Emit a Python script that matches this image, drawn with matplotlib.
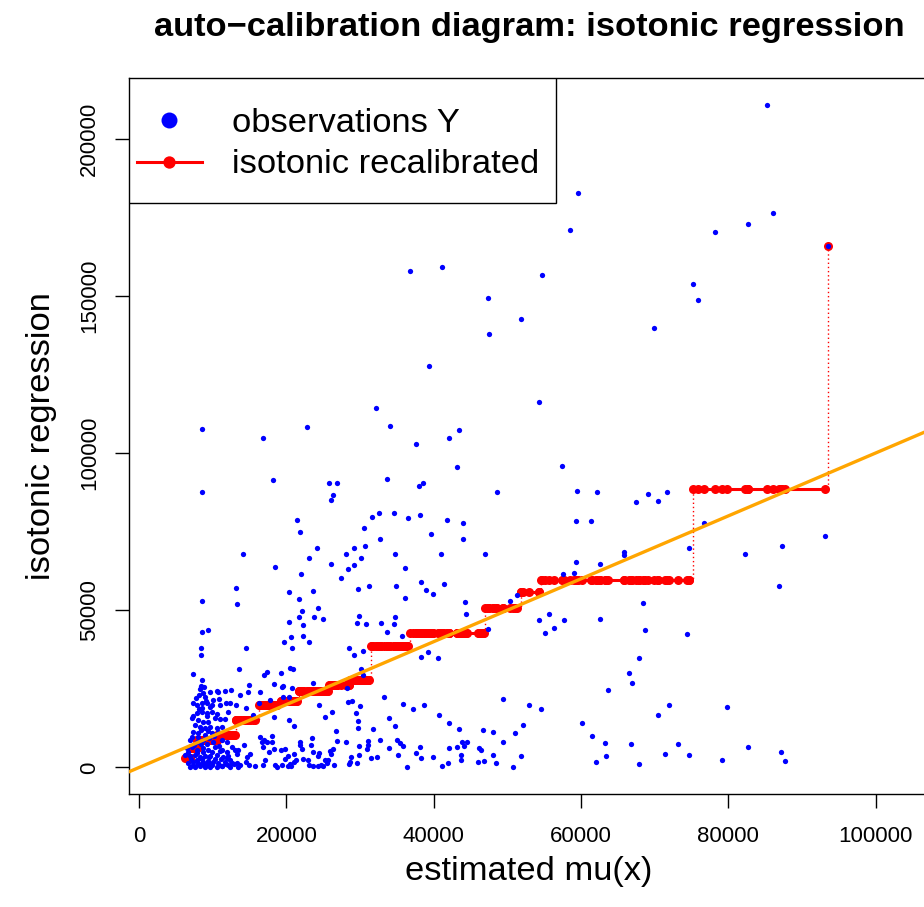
import matplotlib.pyplot as plt
from matplotlib.patches import Rectangle
import numpy as np

plt.rcParams['font.family'] = ['Liberation Sans', 'DejaVu Sans']

upper_pts = [
    (85260, 210800), (59600, 182700), (58500, 170900), (82650, 172900), (86040, 176300),
    (78160, 170300), (75170, 153800), (75850, 148700), (93500, 165800), (54710, 156600),
    (36780, 157900), (41130, 159200), (47380, 149300), (47520, 137900), (51860, 142600),
    (69920, 139800), (54300, 116200), (39370, 127700), (32130, 114200), (22770, 108300),
    (8510, 107700), (16790, 104900), (34030, 108500), (37650, 102800), (42130, 104700),
    (43480, 107400), (43130, 95500), (8510, 87700), (18230, 91300), (25840, 90600),
    (26920, 90600), (33670, 91600), (37970, 89600), (38560, 90600), (26380, 86600),
    (26030, 85100), (21490, 78600), (21820, 74800), (31590, 79800), (32580, 81000),
    (34660, 80800), (36480, 79200), (38190, 80300), (41810, 78800), (43990, 77800),
    (30510, 76100), (32680, 72800), (39600, 74200), (43940, 72800), (14080, 67800),
    (24210, 69800), (23080, 66700), (29150, 69700), (30720, 70500), (28140, 67800),
    (30180, 66500), (34710, 67800), (41040, 67800), (47010, 67800), (18500, 63800),
    (26110, 64800), (28420, 63200), (29150, 64500), (21950, 61400), (27460, 60300),
    (36150, 63300), (13210, 57200), (20320, 55700), (23660, 56100), (29690, 56800),
    (31220, 57800), (34890, 57800), (38240, 59100), (38960, 56400), (39910, 55300),
    (41370, 58400), (8510, 52900), (13350, 51900), (21680, 53500), (36150, 53800),
    (44300, 52500), (22090, 49900), (24260, 50600), (21760, 47900), (23720, 48000),
    (24940, 47300), (29910, 48100), (34710, 47800), (44390, 48800), (20360, 46400),
    (22220, 45200), (29630, 45900), (30780, 45500), (32890, 45900), (34660, 45600),
    (33710, 43000), (8510, 43100), (9410, 43600), (20680, 41400), (22260, 41800),
    (19730, 39800), (23080, 39800), (35700, 41800), (47380, 43900), (8420, 37900),
    (8420, 35900), (14490, 37900), (20730, 38000), (28510, 37900), (29150, 35700),
    (38280, 35200), (39240, 36600), (40550, 34900), (30450, 37000), (13620, 31400),
    (20460, 31500), (30180, 31200),
]

right_pts = [
    (50410, 52900), (51320, 54800), (54260, 46800), (55700, 48900), (55080, 42900),
    (56300, 44300), (57740, 46800), (57600, 61400), (59100, 61900), (59330, 65400),
    (62590, 64600), (65890, 68400), (65890, 67600), (68380, 52200), (62630, 47100),
    (68650, 43600), (74670, 69800), (74350, 42500), (67510, 84400), (69140, 86900),
    (70500, 84800), (71680, 87500), (76700, 77800), (82270, 67800), (87330, 70400),
    (93170, 73500), (86890, 57600), (49460, 21900), (52950, 19800), (54580, 18600),
    (49460, 8200), (51000, 10900), (52090, 13500), (51860, 3700), (50770, 300),
    (67920, 34700), (66480, 30100), (66930, 26800), (63710, 24700), (60140, 14100),
    (61500, 9900), (63220, 7900), (66750, 7600), (62000, 1700), (63440, 3600),
    (67920, 1200), (70420, 16700), (71910, 19800), (73210, 7400), (71370, 4300),
    (74710, 3900), (79780, 19300), (79150, 2300), (82720, 6400), (87160, 4800),
    (87660, 2200), (57430, 95900), (48600, 87600), (59460, 87900), (62180, 87600),
    (59330, 78400), (61360, 78400),
]

low_pts = [
    (7290, 29700), (17010, 29400), (17340, 30300), (19240, 30100), (20870, 31200),
    (18370, 26600), (19590, 25900), (23660, 26800), (24400, 19900), (10680, 24100),
    (11680, 24400), (12490, 24600), (13710, 23000), (14970, 26200), (14840, 24100),
    (16470, 23900), (10900, 21700), (11810, 20600), (12400, 20400), (11000, 19900),
    (13170, 20000), (14530, 18900), (12120, 17600), (7150, 15600), (10960, 15500),
    (11630, 15500), (15520, 16700), (18370, 16000), (20400, 15200), (21040, 13100),
    (25290, 16200), (26240, 17700), (28330, 20800), (28960, 21200), (29500, 17400),
    (29770, 14700), (29690, 12700), (31730, 12300), (33300, 22300), (33900, 15600),
    (34750, 13300), (35880, 20100), (37240, 18500), (38730, 19800), (40730, 16700),
    (42090, 14200), (43440, 12200), (46660, 11800), (48100, 11200), (48020, 4000),
    (48430, 1400), (46120, 6200), (46390, 5500), (46060, 1700), (46880, 2000),
    (43890, 8100), (44490, 8000), (44160, 6900), (43670, 4000), (43760, 2300),
    (43130, 6400), (42130, 6300), (41140, 400), (41950, 1300), (39950, 3400),
    (38150, 6600), (38240, 2900), (37610, 4500), (36420, 200), (35840, 6800),
    (35430, 7700), (34990, 8700), (35120, 3900), (33980, 6200), (32720, 8700),
    (32270, 3400), (31460, 2900), (30990, 5800), (31050, 8500), (31130, 7100),
    (29910, 6800), (29830, 4000), (29640, 1300), (28650, 1800), (28820, 3400),
    (28470, 1100), (26750, 11600), (26920, 8500), (28060, 8000), (26380, 5900),
    (25930, 5200), (26110, 4400), (25700, 2400), (25480, 1300), (26430, 800),
    (24750, 800), (23660, 500), (24480, 4500), (24260, 3700), (23660, 4900),
    (23310, 7100), (23450, 9500), (21900, 8000), (21860, 7200), (22170, 6000),
    (22220, 2600), (21350, 2300), (21000, 1700), (20460, 1200), (20590, 600),
    (20190, 400), (21000, 4300), (20190, 3700), (19860, 5800), (19320, 5500),
    (18370, 5900), (17690, 5000), (17340, 8200), (18100, 10000), (18020, 8200),
    (16660, 8100), (16970, 8600), (16470, 9700), (16790, 6500), (15110, 4400),
    (14620, 3300), (14530, 1800), (14970, 800), (13710, 800), (13260, 1300),
    (14250, 7100), (13480, 5700), (13030, 5700), (13260, 4200), (12580, 6600),
    (11950, 5000), (11230, 5600), (11910, 2900), (11230, 600), (12120, 800),
    (12350, 2400), (15750, 400), (17060, 2400), (16870, 800), (18460, 800),
    (18690, 300), (19370, 700), (19860, 2600), (22900, 2300), (23040, 700),
    (24340, 500), (24940, 400), (25210, 2400), (16330, 20400), (17780, 21500),
    (19590, 22500), (20360, 22300), (19450, 25700), (20810, 25300), (28280, 25200),
    (30040, 19700), (30450, 29400),
]

cluster_pts = [
    (8510, 27800), (8280, 24900), (8730, 23600), (8190, 23100), (8960, 22300),
    (9640, 24100), (10550, 24300), (7370, 20600), (7830, 19900), (8510, 20400),
    (9190, 20600), (9640, 19300), (7830, 17200), (8510, 17700), (9190, 17200),
    (9870, 17700), (8050, 15100), (8730, 14600), (9410, 14600), (10320, 15600),
    (7600, 13500), (8280, 13000), (8960, 12500), (9640, 13000), (10550, 12500),
    (11230, 13000), (7370, 11400), (8050, 10900), (8960, 10300), (9870, 10900),
    (10770, 11400), (6920, 8700), (7830, 8200), (8730, 8700), (10090, 8200),
    (11230, 8700), (11910, 8200), (6480, 6100), (7150, 6600), (7830, 5600),
    (8730, 6100), (9410, 5600), (10320, 6400), (6240, 3900), (6920, 3500),
    (7600, 4100), (8280, 3300), (8960, 3800), (9640, 3600), (10550, 4000),
    (11440, 3400), (12120, 3800), (6690, 1500), (7370, 1900), (8050, 1400),
    (8730, 1800), (9410, 1300), (10090, 1700), (10770, 1500), (11680, 1900),
    (12580, 1400), (6920, 300), (7600, 100), (8280, 400), (8960, 200),
    (9640, 300), (10550, 100), (11230, 400), (12350, 200), (13480, 300),
    (8010, 9700), (9230, 7500), (8280, 3000), (9100, 800), (8690, 4900),
    (9500, 3300), (8150, 18600), (9230, 16400), (8400, 26000), (8800, 25500),
    (9100, 21000), (7700, 22000), (10000, 21500), (8600, 19000), (9900, 20000),
    (7300, 16500), (10600, 17000), (8400, 11800), (9300, 11700), (10200, 10000),
    (7200, 9800), (9500, 9300), (7500, 7200), (8400, 7400), (10900, 6800),
    (6700, 4800), (7900, 4600), (9900, 5000), (11000, 5100), (7100, 2600),
    (7900, 2500), (8600, 2700), (9300, 2200), (10300, 2800), (11100, 2600),
    (7300, 900), (8000, 1000), (8700, 1000), (9900, 900), (10900, 900),
    (11800, 1000), (12900, 1000),
]

# isotonic step function: first mu of each block and its fitted level
block_start = [0, 7000, 7900, 10600, 13100, 16300, 18800, 21500, 25800, 28600,
               31300, 36600, 47000, 51800, 54500, 75000, 93400]
block_level = [2900, 6300, 8700, 10300, 15000, 19900, 21200, 24300, 26200, 27800,
               38600, 42900, 50600, 55700, 59600, 88500, 165800]

x_ticks = [0, 20000, 40000, 60000, 80000, 100000]
y_ticks = [0, 50000, 100000, 150000, 200000]

pts = np.array(upper_pts + right_pts + low_pts + cluster_pts, dtype=float)
mu, obs_y = pts[:, 0], pts[:, 1]

iso_x = np.sort(mu)
block = np.searchsorted(block_start, iso_x, side='right') - 1
iso_y = np.array(block_level, dtype=float)[block]

fig = plt.figure(figsize=(9.24, 9.07), dpi=100)
ax = fig.add_axes([129 / 924, 1 - 794 / 907, 800 / 924, 716 / 907])
ax.set_xlim(-1360, 107250)
ax.set_ylim(-8430, 219260)

# dotted step connections, then solid blocks with points
ax.plot(iso_x, iso_y, drawstyle='steps-post', ls=(0, (1, 2)), lw=1, color='red', zorder=1)
for b in np.unique(block):
    m = block == b
    ax.plot(iso_x[m], iso_y[m], '-o', color='red', lw=2.2, ms=6.5, mew=0, zorder=2)

ax.plot(mu, obs_y, 'o', ls='none', color='blue', ms=3.8, mew=0, zorder=3)
ax.axline((0, 0), (1, 1), color='orange', lw=2.4, zorder=4)

ax.set_xticks(x_ticks)
ax.set_xticklabels([str(t) for t in x_ticks])
ax.set_yticks(y_ticks)
ax.set_yticklabels([str(t) for t in y_ticks], rotation=90, va='center')
ax.tick_params(direction='out', length=10, width=1, labelsize=16, colors='black')
ax.tick_params(axis='x', pad=13)
ax.tick_params(axis='y', pad=11)
for s in ax.spines.values():
    s.set_linewidth(1)
    s.set_color('black')

ax.set_xlabel('estimated mu(x)', fontsize=24.8, va='baseline')
ax.xaxis.set_label_coords(0.5, -0.120)
ax.set_ylabel('isotonic regression', fontsize=24.8, va='baseline')
ax.yaxis.set_label_coords(-0.0988, 0.5)
ax.set_title('auto\u2212calibration diagram: isotonic regression', fontsize=24.8,
             fontweight='bold', y=1.0587, va='baseline', pad=0)

# legend box drawn in axes coordinates (R style, top-left inset 0)
ax.add_patch(Rectangle((0, 0.8258), 0.5338, 0.1742, transform=ax.transAxes,
                       facecolor='white', edgecolor='black', lw=1, zorder=5))
ax.plot([0.0506], [0.9413], 'o', color='blue', ms=11.5, mew=0,
        transform=ax.transAxes, zorder=6, clip_on=False)
ax.plot([0.0104, 0.0909], [0.8831, 0.8831], '-', color='red', lw=2.2,
        transform=ax.transAxes, zorder=6, clip_on=False)
ax.plot([0.0506], [0.8831], 'o', color='red', ms=8.9, mew=0,
        transform=ax.transAxes, zorder=6, clip_on=False)
ax.text(0.129, 0.925, 'observations Y', fontsize=24.8, va='baseline', ha='left',
        transform=ax.transAxes, zorder=7)
ax.text(0.129, 0.8677, 'isotonic recalibrated', fontsize=24.8, va='baseline', ha='left',
        transform=ax.transAxes, zorder=7)

fig.savefig('out.png', dpi=100)
